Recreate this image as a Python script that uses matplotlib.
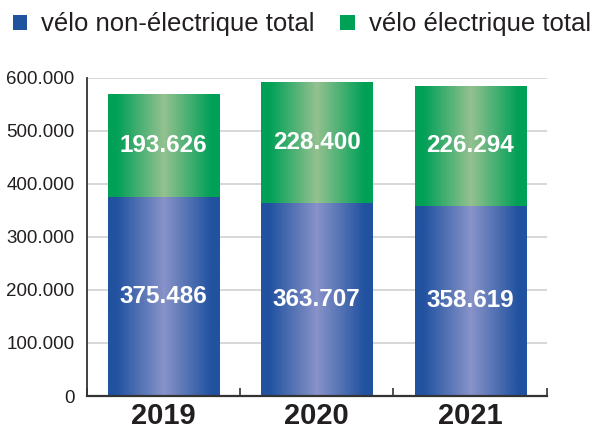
import numpy as np
import matplotlib
matplotlib.use("Agg")
import matplotlib.pyplot as plt
from matplotlib.colors import to_rgb

plt.rcParams['font.family'] = ['Liberation Sans', 'DejaVu Sans']

years = ["2019", "2020", "2021"]
non_electric = [375486, 363707, 358619]
electric = [193626, 228400, 226294]
series_names = ["vélo non-électrique total", "vélo électrique total"]
y_ticks = [0, 100000, 200000, 300000, 400000, 500000, 600000]

blue_dark, blue_light = "#2152a0", "#8893c9"
green_dark, green_light = "#00a057", "#94c190"
text_col = "#231f20"


def fmt(v):
    # dot as thousands separator
    return f"{v:,}".replace(",", ".")


def shade(bar, dark, light, ax):
    # cylinder look: dark edges, light middle
    x0, y0 = bar.get_x(), bar.get_y()
    w, h = bar.get_width(), bar.get_height()
    t = np.abs(np.linspace(-1, 1, 256))
    f = np.clip(1 - t / 0.85, 0, 1)
    d, l = np.array(to_rgb(dark)), np.array(to_rgb(light))
    img = d[None, :] + (l - d)[None, :] * f[:, None]
    im = ax.imshow(img[None, :, :], extent=(x0, x0 + w, y0, y0 + h),
                   aspect="auto", interpolation="bilinear", zorder=3)
    im.set_clip_path(bar)


fig = plt.figure(figsize=(5.95, 4.30), dpi=100)
ax = fig.add_axes([0.146, 0.079, 0.773, 0.740])

x = np.arange(len(years))
b1 = ax.bar(x, non_electric, width=0.725, color=blue_dark, zorder=2,
            label=series_names[0])
b2 = ax.bar(x, electric, width=0.725, bottom=non_electric, color=green_dark,
            zorder=2, label=series_names[1])

for bar in b1:
    shade(bar, blue_dark, blue_light, ax)
for bar in b2:
    shade(bar, green_dark, green_light, ax)

for i in range(len(years)):
    ax.text(x[i], non_electric[i] / 2, fmt(non_electric[i]), ha="center",
            va="center", color="white", fontsize=17.5, fontweight="bold", zorder=5)
    ax.text(x[i], non_electric[i] + electric[i] / 2, fmt(electric[i]),
            ha="center", va="center", color="white", fontsize=17.5,
            fontweight="bold", zorder=5)

ax.set_xlim(-0.5, len(years) - 0.5)
ax.set_ylim(0, 600000)
ax.set_yticks(y_ticks)
ax.set_yticklabels([fmt(v) for v in y_ticks])
ax.set_xticks(x)
ax.set_xticklabels(years)
ax.set_xticks(np.arange(len(years) + 1) - 0.5, minor=True)

ax.tick_params(axis="y", length=0, pad=9, labelsize=13.5, labelcolor=text_col)
ax.tick_params(axis="x", which="major", length=0, pad=4, labelsize=21,
               labelcolor=text_col)
ax.tick_params(axis="x", which="minor", direction="in", length=6, width=1.2,
               color="#333333")
for lab in ax.get_xticklabels():
    lab.set_fontweight("bold")

ax.grid(axis="y", color="#d4d4d4", linewidth=1.3, zorder=0)
ax.set_axisbelow(True)
for s in ["top", "right"]:
    ax.spines[s].set_visible(False)
ax.spines["left"].set_color("#333333")
ax.spines["left"].set_linewidth(1.3)
ax.spines["bottom"].set_color("#333333")
ax.spines["bottom"].set_linewidth(1.6)
ax.spines["bottom"].set_zorder(6)

fig.legend(handles=[b1, b2], labels=series_names, loc="upper left",
           bbox_to_anchor=(0.004, 0.995), ncol=2, frameon=False,
           fontsize=18.5, handlelength=0.56, handleheight=0.56,
           handletextpad=0.55, columnspacing=1.0, borderaxespad=0,
           labelcolor=text_col)

fig.savefig("out.png", dpi=100)
